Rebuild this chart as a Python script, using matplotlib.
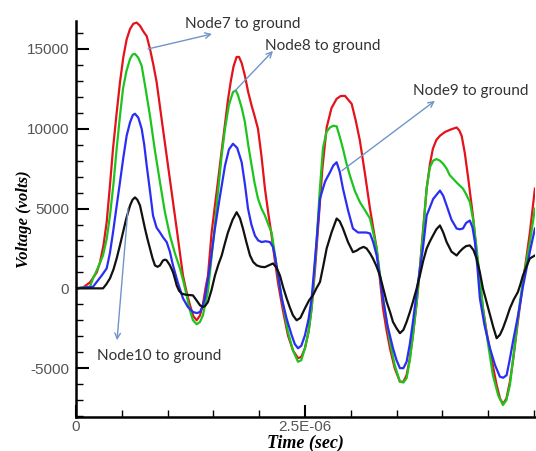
import matplotlib.pyplot as plt
import numpy as np
from matplotlib.ticker import MultipleLocator, FixedLocator

plt.rcParams['axes.unicode_minus'] = False

# time in microseconds, voltage in volts
t_node7 = [0.0, 0.076, 0.153, 0.226, 0.262, 0.30, 0.335, 0.37, 0.404, 0.444,
           0.480, 0.517, 0.553, 0.590, 0.626, 0.663, 0.699, 0.735, 0.772, 0.808,
           0.845, 0.881, 0.935, 0.990, 1.045, 1.099, 1.135, 1.168, 1.208, 1.245,
           1.282, 1.318, 1.354, 1.386, 1.414, 1.441, 1.481, 1.517, 1.550, 1.590,
           1.627, 1.659, 1.691, 1.72, 1.754, 1.78, 1.81, 1.845, 1.88, 1.918,
           1.95, 1.987, 2.025, 2.063, 2.10, 2.136, 2.17, 2.205, 2.26, 2.314,
           2.37, 2.424, 2.46, 2.500, 2.54, 2.573, 2.61, 2.645, 2.69, 2.737,
           2.79, 2.846, 2.89, 2.937, 2.975, 3.010, 3.055, 3.100, 3.155, 3.210,
           3.283, 3.352, 3.39, 3.428, 3.48, 3.537, 3.575, 3.610, 3.645, 3.679,
           3.72, 3.755, 3.79, 3.829, 3.865, 3.897, 3.935, 3.974, 4.03, 4.09,
           4.156, 4.185, 4.211, 4.245, 4.279, 4.334, 4.37, 4.410, 4.443, 4.483,
           4.54, 4.593, 4.63, 4.662, 4.70, 4.738, 4.775, 4.811, 4.845, 4.880,
           4.92, 4.956, 5.011]
v_node7 = [0, 50, 375, 1000, 1625, 2700, 4150, 6400, 8750, 11000,
           12900, 14500, 15600, 16250, 16580, 16650, 16450, 16100, 15800, 15000,
           14000, 12900, 10600, 8300, 6000, 3750, 2200, 800, -250, -1060,
           -1750, -2000, -1700, -1000, 0, 800, 3500, 5200, 6700, 8600,
           10300, 11800, 13000, 13900, 14500, 14500, 14100, 13300, 12300, 11440,
           10800, 10000, 8300, 6250, 4700, 3300, 1800, 375, -1400, -2940,
           -3900, -4370, -4300, -3750, -2700, -1250, 1200, 3940, 7500, 10080,
           11300, 11875, 12050, 12060, 11800, 11560, 10500, 9250, 7190, 5000,
           2500, -1250, -2600, -3750, -5000, -5850, -5850, -5440, -4400, -2940,
           -900, 1250, 3700, 6250, 7800, 8750, 9300, 9560, 9800, 9950,
           10080, 9900, 9560, 8500, 7060, 4560, 2500, 375, -1200, -2730,
           -4500, -6060, -6900, -7250, -6900, -5850, -4400, -2730, -1200, 375,
           2000, 3500, 6250]

t_node8 = [0.0, 0.153, 0.186, 0.24, 0.295, 0.335, 0.371, 0.41, 0.444, 0.48,
           0.513, 0.55, 0.590, 0.617, 0.644, 0.68, 0.717, 0.76, 0.808, 0.86,
           0.917, 0.97, 1.026, 1.08, 1.135, 1.17, 1.208, 1.24, 1.277, 1.318,
           1.354, 1.386, 1.414, 1.441, 1.481, 1.517, 1.550, 1.59, 1.627, 1.67,
           1.714, 1.745, 1.769, 1.81, 1.845, 1.88, 1.918, 1.95, 1.987, 2.025,
           2.063, 2.10, 2.136, 2.17, 2.205, 2.26, 2.314, 2.37, 2.424, 2.46,
           2.500, 2.54, 2.573, 2.60, 2.628, 2.66, 2.697, 2.735, 2.773, 2.81,
           2.846, 2.88, 2.915, 2.95, 2.991, 3.045, 3.100, 3.155, 3.210, 3.245,
           3.283, 3.32, 3.352, 3.39, 3.428, 3.48, 3.537, 3.575, 3.610, 3.645,
           3.679, 3.72, 3.755, 3.79, 3.829, 3.865, 3.90, 3.935, 3.974, 4.01,
           4.047, 4.08, 4.116, 4.17, 4.225, 4.26, 4.301, 4.34, 4.374, 4.41,
           4.443, 4.50, 4.552, 4.61, 4.662, 4.70, 4.738, 4.79, 4.847, 4.90,
           4.956, 5.011]
v_node8 = [0, 100, 625, 1300, 2060, 3100, 4560, 6600, 8750, 10800,
           12500, 13600, 14375, 14650, 14690, 14450, 13940, 12500, 10800, 8700,
           6650, 4800, 3300, 2200, 1250, 500, -440, -1300, -2000, -2250,
           -2100, -1690, -900, -200, 2000, 4000, 6000, 8300, 10000, 11500,
           12300, 12400, 12100, 11300, 10400, 9000, 7690, 6600, 5625, 5000,
           4560, 4000, 3500, 2200, 800, -1000, -2730, -3900, -4600, -4500,
           -3750, -2700, -1250, 800, 3000, 6000, 8800, 9800, 10080, 10190,
           10150, 9500, 8750, 7900, 7060, 6100, 5400, 4900, 4375, 3500,
           2500, 800, -625, -2000, -3350, -4800, -5850, -5900, -5625, -4500,
           -2940, -900, 1250, 3500, 6300, 7600, 8000, 8100, 8000, 7800,
           7500, 7100, 6875, 6550, 6250, 5900, 5400, 4200, 2500, 700,
           -1250, -3500, -5440, -6700, -7310, -7000, -6060, -3600, -850, 1100,
           2900, 5000]

t_node9 = [0.0, 0.186, 0.226, 0.28, 0.335, 0.37, 0.404, 0.44, 0.480, 0.517,
           0.553, 0.59, 0.62, 0.644, 0.68, 0.717, 0.745, 0.772, 0.81, 0.841,
           0.88, 0.917, 0.95, 0.990, 1.025, 1.059, 1.11, 1.168, 1.22, 1.277,
           1.32, 1.354, 1.38, 1.408, 1.46, 1.517, 1.57, 1.627, 1.67, 1.714,
           1.76, 1.809, 1.845, 1.878, 1.915, 1.954, 1.99, 2.027, 2.07, 2.118,
           2.15, 2.172, 2.21, 2.246, 2.30, 2.355, 2.39, 2.424, 2.46, 2.500,
           2.54, 2.573, 2.62, 2.664, 2.72, 2.773, 2.81, 2.846, 2.88, 2.915,
           2.97, 3.024, 3.08, 3.133, 3.17, 3.210, 3.245, 3.283, 3.32, 3.352,
           3.40, 3.461, 3.50, 3.537, 3.575, 3.610, 3.645, 3.679, 3.73, 3.788,
           3.829, 3.90, 3.974, 4.01, 4.047, 4.10, 4.156, 4.19, 4.225, 4.26,
           4.301, 4.33, 4.356, 4.385, 4.410, 4.46, 4.520, 4.575, 4.629, 4.665,
           4.702, 4.735, 4.771, 4.81, 4.847, 4.88, 4.920, 4.96, 5.011]
v_node9 = [0, 100, 400, 800, 1250, 2200, 3500, 5000, 6650, 8200,
           9560, 10400, 10850, 10940, 10700, 10000, 9000, 7690, 6000, 4560,
           3800, 3500, 3200, 2900, 2300, 1440, 400, -625, -1150, -1480,
           -1550, -1480, -1150, -625, 1300, 3750, 5700, 7690, 8700, 9060,
           8800, 7900, 6500, 5000, 4000, 3300, 3000, 2900, 2950, 2900,
           2600, 2060, 700, -625, -1900, -2940, -3500, -3750, -3600, -2940,
           -1900, -625, 2500, 5625, 6700, 7270, 7700, 7900, 7300, 6250,
           4900, 3750, 3500, 3500, 3500, 3440, 2900, 2060, 700, -625,
           -2300, -3750, -4500, -5000, -5000, -4600, -3500, -2100, 200, 2500,
           4560, 5600, 6125, 5800, 5190, 4300, 3750, 3700, 3750, 4100,
           4250, 3800, 2900, 1200, -625, -2300, -3750, -4800, -5540, -5600,
           -5440, -4500, -3350, -2200, -1060, 100, 1250, 2400, 3750]

t_node10 = [0.0, 0.295, 0.33, 0.371, 0.41, 0.444, 0.48, 0.513, 0.55, 0.590,
            0.617, 0.644, 0.67, 0.699, 0.725, 0.753, 0.78, 0.808, 0.835, 0.862,
            0.89, 0.917, 0.95, 0.975, 0.990, 1.025, 1.059, 1.08, 1.099, 1.125,
            1.154, 1.20, 1.24, 1.277, 1.31, 1.354, 1.386, 1.41, 1.441, 1.48,
            1.517, 1.555, 1.591, 1.625, 1.659, 1.71, 1.754, 1.79, 1.823, 1.86,
            1.900, 1.935, 1.973, 2.02, 2.063, 2.11, 2.151, 2.19, 2.227, 2.26,
            2.300, 2.335, 2.369, 2.409, 2.45, 2.500, 2.545, 2.587, 2.625, 2.664,
            2.70, 2.737, 2.79, 2.846, 2.88, 2.915, 2.97, 3.024, 3.06, 3.100,
            3.14, 3.173, 3.21, 3.242, 3.28, 3.319, 3.355, 3.392, 3.43, 3.461,
            3.50, 3.537, 3.575, 3.610, 3.645, 3.679, 3.72, 3.755, 3.79, 3.829,
            3.865, 3.897, 3.935, 3.974, 4.01, 4.047, 4.10, 4.156, 4.19, 4.225,
            4.26, 4.301, 4.34, 4.374, 4.41, 4.443, 4.48, 4.520, 4.555, 4.593,
            4.63, 4.662, 4.70, 4.738, 4.78, 4.825, 4.85, 4.880, 4.92, 4.956,
            5.011]
v_node10 = [0, 0, 250, 625, 1200, 1875, 2700, 3500, 4400, 5190,
            5550, 5700, 5550, 5190, 4500, 3750, 3100, 2500, 1900, 1440,
            1350, 1440, 1750, 1800, 1750, 1450, 1020, 600, 190, -150,
            -330, -400, -420, -440, -700, -1060, -1170, -1100, -850, -100,
            800, 1500, 2060, 2800, 3500, 4300, 4770, 4400, 3750, 2900,
            2060, 1650, 1440, 1350, 1330, 1450, 1560, 1300, 800, 100,
            -625, -1200, -1690, -2000, -1850, -1250, -750, -440, 0, 400,
            1400, 2500, 3500, 4375, 4200, 3750, 2900, 2270, 2350, 2500,
            2600, 2500, 2200, 1875, 1400, 800, 0, -850, -1500, -2100,
            -2500, -2810, -2600, -2100, -1500, -850, 0, 800, 1700, 2500,
            2950, 3300, 3700, 3940, 3500, 2900, 2300, 2060, 2300, 2500,
            2650, 2690, 2400, 1875, 1000, 0, -800, -1690, -2400, -3125,
            -2900, -2500, -1900, -1250, -700, -230, 200, 800, 1400, 1875,
            2060]

fig = plt.figure(figsize=(5.36, 4.51), dpi=100)
ax = fig.add_axes([0.1418, 0.0754, 0.856, 0.878])

us = 1e-6
ax.plot(np.array(t_node7) * us, v_node7, color='#e3121b', lw=1.6)
ax.plot(np.array(t_node8) * us, v_node8, color='#1ec41e', lw=1.6)
ax.plot(np.array(t_node9) * us, v_node9, color='#2a2ef2', lw=1.6)
ax.plot(np.array(t_node10) * us, v_node10, color='#111111', lw=1.6)

ax.set_xlim(0, 5.01e-6)
ax.set_ylim(-8060, 16750)

for s in ['top', 'right']:
    ax.spines[s].set_visible(False)
for s in ['left', 'bottom']:
    ax.spines[s].set_linewidth(1.8)

ax.xaxis.set_major_locator(FixedLocator([0, 2.5e-6]))
ax.xaxis.set_minor_locator(MultipleLocator(0.5e-6))
ax.set_xticklabels(['0', '2.5E-06'])
ax.yaxis.set_major_locator(MultipleLocator(5000))
ax.yaxis.set_minor_locator(MultipleLocator(1000))
ax.tick_params(which='major', direction='in', length=9, width=1.5,
               labelsize=11, labelcolor='#555555', pad=5)
ax.tick_params(axis='x', which='major', pad=2.5)
ax.tick_params(which='minor', direction='in', length=5, width=1.0)
for lab in ax.get_xticklabels() + ax.get_yticklabels():
    lab.set_family('Liberation Sans')

ax.set_ylabel('Voltage (volts)', family='Liberation Serif', fontweight='bold',
              style='italic', fontsize=12)
ax.yaxis.set_label_coords(-0.096, 0.5)
ax.set_xlabel('Time (sec)', family='Liberation Serif', fontweight='bold',
              style='italic', fontsize=13, labelpad=0.5)

arrow = dict(arrowstyle='->', color='#6f95c8', lw=1.0, shrinkA=0, shrinkB=0)
txt = dict(family='Lato', fontsize=11, color='#333333', va='center', ha='left')

# (tail, head, text position) in microseconds / volts
ax.annotate('', xy=(1.485 * us, 15940), xytext=(0.786 * us, 15000), arrowprops=arrow)
ax.text(1.19 * us, 16560, 'Node7 to ground', **txt)
ax.annotate('', xy=(2.151 * us, 14875), xytext=(1.736 * us, 12375), arrowprops=arrow)
ax.text(2.063 * us, 15190, 'Node8 to ground', **txt)
ax.annotate('', xy=(3.919 * us, 11750), xytext=(2.904 * us, 7375), arrowprops=arrow)
ax.text(3.679 * us, 12375, 'Node9 to ground', **txt)
ax.annotate('', xy=(0.448 * us, -3250), xytext=(0.568 * us, 5000), arrowprops=arrow)
ax.text(0.229 * us, -4250, 'Node10 to ground', **txt)

fig.savefig('out.png', dpi=100)
